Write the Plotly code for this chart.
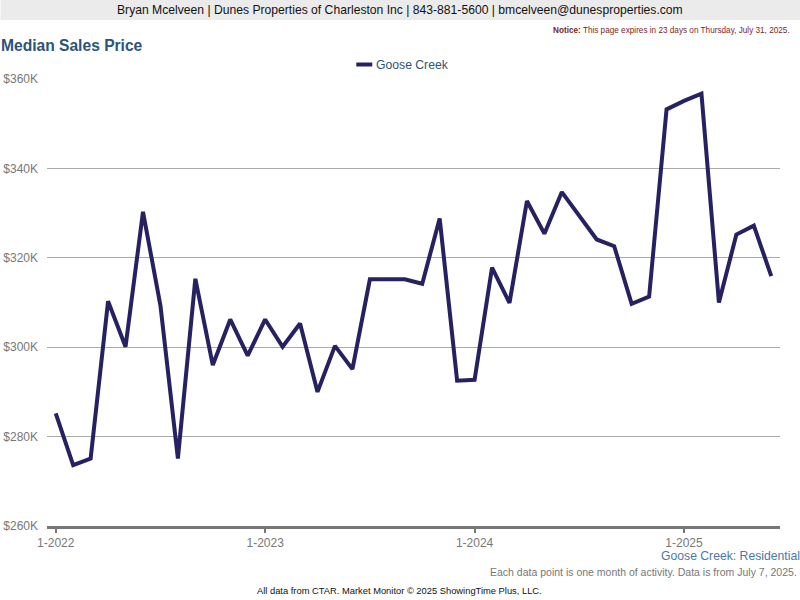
import plotly.graph_objects as go

months = [f"{m}-{y}" for y in (2022, 2023, 2024, 2025) for m in range(1, 13)][:42]
series_name = "Goose Creek"
values = [285200, 273600, 275100, 310300, 300100, 330300, 309300, 275100, 315300, 296000, 306200, 298100,
          306200, 300100, 305300, 290000, 300300, 295100, 315200, 315200, 315200, 314200, 328800, 292500,
          292700, 317800, 309900, 332700, 325400, 334700, 329400, 324100, 322600, 309700, 311300, 353200,
          355100, 356700, 310000, 325200, 327200, 315900]
y_ticks = [260000, 280000, 300000, 320000, 340000, 360000]
y_labels = ["$260K", "$280K", "$300K", "$320K", "$340K", "$360K"]
x_ticks = ["1-2022", "1-2023", "1-2024", "1-2025"]
font = "Liberation Sans, Arial, sans-serif"
LINE = "#262262"

W, H, L, R, T, B = 800, 600, 46.5, 20, 79, 74
pw, ph = W - L - R, H - T - B
def px(x): return (x - L) / pw
def py(y): return (H - B - y) / ph

fig = go.Figure(go.Scatter(x=months, y=values, mode="lines", name=series_name,
                           line=dict(color=LINE, width=4), showlegend=False))
fig.update_layout(
    width=W, height=H, margin=dict(l=L, r=R, t=T, b=B, pad=0, autoexpand=False), autosize=False,
    paper_bgcolor="white", plot_bgcolor="white",
    font=dict(family=font),
    xaxis=dict(type="category", categoryorder="array", categoryarray=months, automargin=False,
               range=[-0.5, 41.5], tickmode="array", tickvals=x_ticks, ticktext=x_ticks,
               ticks="outside", ticklen=4, tickwidth=2, tickcolor="#777777",
               showline=True, linecolor="#777777", linewidth=2.5, showgrid=False,
               tickfont=dict(size=12, color="#777777")),
    yaxis=dict(range=[260000, 360000], tickmode="array", tickvals=y_ticks, ticktext=y_labels, automargin=False,
               showgrid=True, gridcolor="#aaaaaa", gridwidth=1, zeroline=False, showline=False,
               ticks="", ticklabelstandoff=8, tickfont=dict(size=12, color="#777777")),
    shapes=[
        dict(type="rect", xref="paper", yref="paper", x0=px(0), x1=px(800), y0=py(20), y1=py(0),
             fillcolor="#ebebeb", line_width=0, layer="below"),
        dict(type="line", xref="paper", yref="paper", x0=px(356), x1=px(372), y0=py(64.5), y1=py(64.5),
             line=dict(color=LINE, width=4)),
    ],
)
extra = [
    ("Bryan Mcelveen | Dunes Properties of Charleston Inc | 843-881-5600 | bmcelveen@dunesproperties.com",
     400, 10.5, "center", 12.15, "#111111"),
    ("<b>Notice:</b> This page expires in 23 days on Thursday, July 31, 2025.", 790, 31, "right", 8.2, "#7a1f1f"),
    ("<b>Median Sales Price</b>", 0, 45.5, "left", 15.6, "#2c5379"),
    (series_name, 376, 65, "left", 12.2, "#2c5379"),
    ("Goose Creek: Residential", 800, 556, "right", 12.2, "#4a78a8"),
    ("Each data point is one month of activity. Data is from July 7, 2025.", 797, 572, "right", 10.5, "#777777"),
    ("All data from CTAR. Market Monitor © 2025 ShowingTime Plus, LLC.", 399.5, 591, "center", 9.35, "#111111"),
]
for text, x, y, anchor, size, color in extra:
    fig.add_annotation(text=text, xref="paper", yref="paper", x=px(x), y=py(y), xanchor=anchor,
                       yanchor="middle", showarrow=False, borderpad=0, borderwidth=0,
                       font=dict(size=size, color=color))
fig.write_html("out.html", config={"displayModeBar": False}, post_script="document.body.style.margin='0';")
